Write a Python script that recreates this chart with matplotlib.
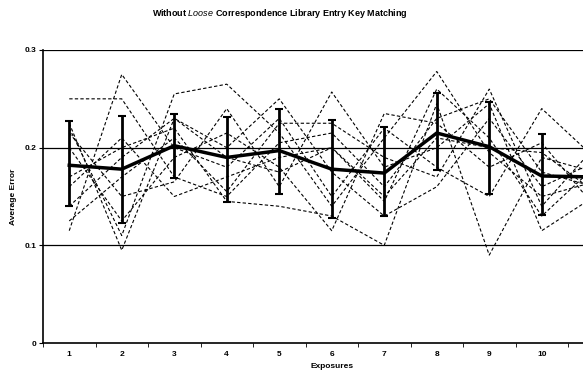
import numpy as np
import matplotlib
matplotlib.use("Agg")
import matplotlib.pyplot as plt

plt.rcParams['font.family'] = ['Liberation Sans', 'DejaVu Sans']
plt.rcParams['mathtext.fontset'] = 'custom'
plt.rcParams['mathtext.it'] = 'Liberation Sans:italic'
plt.rcParams['mathtext.rm'] = 'Liberation Sans:bold'

# exposures (categories); the 11th is cut off by the right edge in the original
exposures = list(range(1, 12))
tick_labels = ['1', '2', '3', '4', '5', '6', '7', '8', '9', '10', '']

# mean error and error bar ends
mean_err = [0.182, 0.178, 0.202, 0.190, 0.197, 0.178, 0.174, 0.215, 0.201, 0.171, 0.170]
err_hi = [0.227, 0.232, 0.234, 0.231, 0.240, 0.228, 0.221, 0.256, 0.247, 0.214, 0.210]
err_lo = [0.140, 0.123, 0.169, 0.144, 0.153, 0.128, 0.130, 0.177, 0.153, 0.131, 0.130]

# individual runs (dashed lines), estimated
run_1 = [0.250, 0.250, 0.170, 0.150, 0.205, 0.215, 0.160, 0.230, 0.250, 0.175, 0.160]
run_2 = [0.115, 0.275, 0.200, 0.180, 0.230, 0.150, 0.220, 0.180, 0.150, 0.240, 0.190]
run_3 = [0.220, 0.110, 0.255, 0.265, 0.215, 0.140, 0.210, 0.278, 0.195, 0.150, 0.165]
run_4 = [0.170, 0.200, 0.220, 0.145, 0.140, 0.130, 0.100, 0.245, 0.090, 0.190, 0.175]
run_5 = [0.215, 0.150, 0.165, 0.240, 0.160, 0.257, 0.180, 0.200, 0.245, 0.115, 0.150]
run_6 = [0.140, 0.190, 0.230, 0.200, 0.250, 0.175, 0.130, 0.160, 0.230, 0.160, 0.185]
run_7 = [0.200, 0.125, 0.190, 0.215, 0.180, 0.115, 0.235, 0.225, 0.180, 0.205, 0.140]
run_8 = [0.160, 0.210, 0.150, 0.170, 0.190, 0.200, 0.145, 0.260, 0.210, 0.130, 0.180]
run_9 = [0.125, 0.170, 0.210, 0.155, 0.225, 0.225, 0.190, 0.170, 0.260, 0.140, 0.200]
run_10 = [0.225, 0.095, 0.230, 0.190, 0.175, 0.200, 0.150, 0.210, 0.200, 0.195, 0.155]
runs = [run_1, run_2, run_3, run_4, run_5, run_6, run_7, run_8, run_9, run_10]

fig = plt.figure(figsize=(5.83, 3.74), dpi=100)
# axes deliberately runs past the right edge (chart is cropped in the original)
ax = fig.add_axes([43 / 583, 1 - 343 / 374, 577.5 / 583, 293 / 374])

for r in runs:
    ax.plot(exposures, r, color='black', lw=0.8, ls=(0, (3, 2)))

x = np.array(exposures)
m = np.array(mean_err)
ax.errorbar(x, m, yerr=[m - np.array(err_lo), np.array(err_hi) - m],
            fmt='none', ecolor='black', elinewidth=2, capsize=3, capthick=1.5)
ax.plot(x, m, color='black', lw=2.5)

ax.set_xlim(0.5, 11.5)
ax.set_ylim(0, 0.3)
ax.set_yticks([0, 0.1, 0.2, 0.3])
ax.set_yticklabels(['0', '0.1', '0.2', '0.3'])
ax.set_xticks(exposures)
ax.set_xticklabels(tick_labels)
ax.set_xticks(np.arange(0.5, 12, 1), minor=True)
ax.tick_params(axis='x', which='major', length=0, labelsize=6, pad=6)
ax.tick_params(axis='x', which='minor', length=3, direction='out')
ax.tick_params(axis='y', length=3, labelsize=6, pad=2)
for lab in ax.get_xticklabels() + ax.get_yticklabels():
    lab.set_fontweight('bold')

for yv in [0.1, 0.2, 0.3]:
    ax.axhline(yv, color='black', lw=0.9, zorder=0)

ax.spines['top'].set_visible(False)
ax.spines['right'].set_visible(False)
ax.spines['left'].set_linewidth(1.2)
ax.spines['bottom'].set_linewidth(1.2)

ax.set_xlabel('Exposures', fontsize=6, fontweight='bold', labelpad=3)
ax.set_ylabel('Average Error', fontsize=6, fontweight='bold', labelpad=5)

fig.text(280 / 583, 1 - 13 / 374,
         r'Without $\mathit{Loose}$ Correspondence Library Entry Key Matching',
         ha='center', va='center', fontsize=6.5, fontweight='bold')

fig.savefig('out.png', dpi=100)
